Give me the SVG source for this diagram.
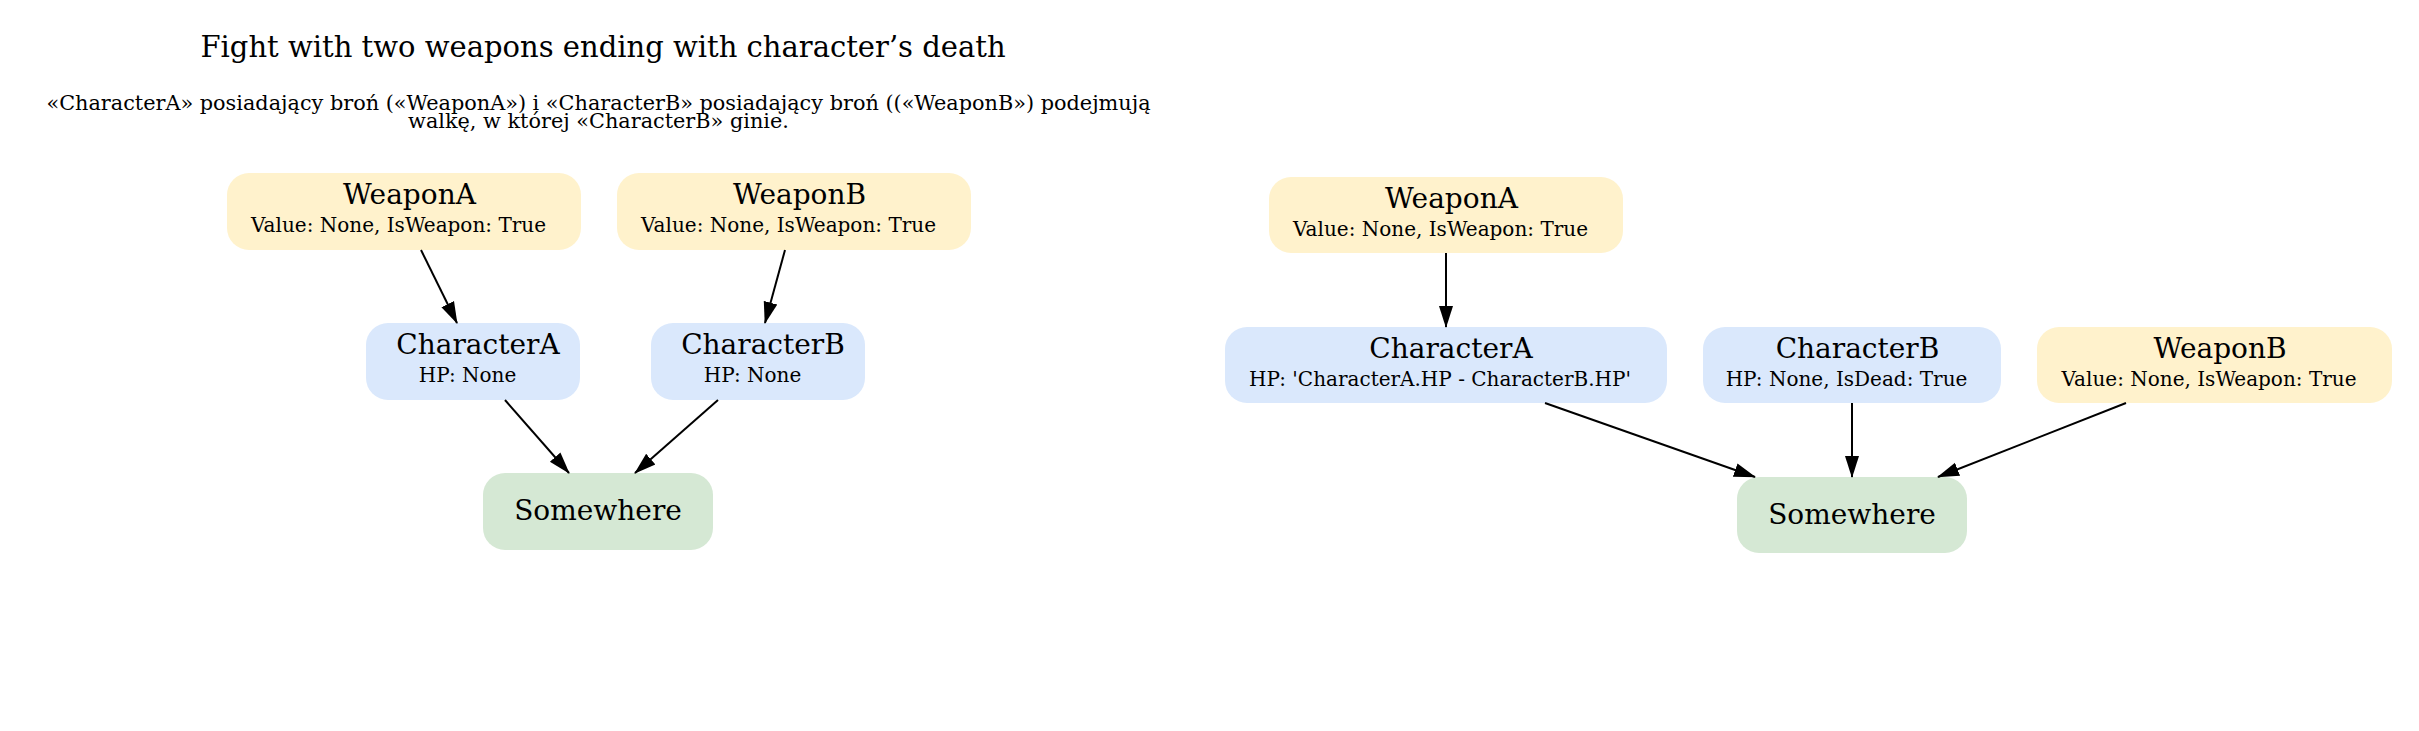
<svg xmlns="http://www.w3.org/2000/svg" width="2419" height="731" viewBox="0 0 2419 731">
<defs>
<style>
text{font-family:"DejaVu Serif","Liberation Serif",serif;fill:#000}
.t{font-size:29px;text-anchor:middle}
.s{font-size:20.8px;text-anchor:middle}
.n{font-size:28px;text-anchor:middle}
.a{font-size:20px;text-anchor:middle}
.w{fill:#fff2cc}
.c{fill:#dae8fc}
.p{fill:#d5e8d4}
.e{stroke:#000;stroke-width:2;fill:none;marker-end:url(#arr)}
</style>
<marker id="arr" viewBox="0 0 22 16" refX="21" refY="8" markerWidth="22" markerHeight="16" markerUnits="userSpaceOnUse" orient="auto">
<path d="M0,1 L22,8 L0,15 z" fill="#000"/>
</marker>
</defs>
<rect width="2419" height="731" fill="#fff"/>
<g id="title">
<text class="t" x="603" y="57">Fight with two weapons ending with character’s death</text>
<text class="s" x="598.5" y="110">«CharacterA» posiadający broń («WeaponA») i «CharacterB» posiadający broń ((«WeaponB») podejmują</text>
<text class="s" x="598.5" y="128">walkę, w której «CharacterB» ginie.</text>
</g>
<g id="left-WeaponA"><rect class="w" x="227" y="173" width="354" height="77" rx="22"/><text class="n" x="409.5" y="204">WeaponA</text><text class="a" x="398.5" y="232">Value: None, IsWeapon: True</text></g>
<g id="left-WeaponB"><rect class="w" x="617" y="173" width="354" height="77" rx="22"/><text class="n" x="799.5" y="204">WeaponB</text><text class="a" x="788.5" y="232">Value: None, IsWeapon: True</text></g>
<g id="left-CharacterA"><rect class="c" x="366" y="323" width="214" height="77" rx="22"/><text class="n" x="478" y="354">CharacterA</text><text class="a" x="467.5" y="382">HP: None</text></g>
<g id="left-CharacterB"><rect class="c" x="651" y="323" width="214" height="77" rx="22"/><text class="n" x="763" y="354">CharacterB</text><text class="a" x="752.5" y="382">HP: None</text></g>
<g id="left-Somewhere"><rect class="p" x="483" y="473" width="230" height="77" rx="22"/><text class="n" x="598" y="520">Somewhere</text></g>
<g id="right-WeaponA"><rect class="w" x="1269" y="177" width="354" height="76" rx="22"/><text class="n" x="1451.5" y="208">WeaponA</text><text class="a" x="1440.5" y="236">Value: None, IsWeapon: True</text></g>
<g id="right-CharacterA"><rect class="c" x="1225" y="327" width="442" height="76" rx="22"/><text class="n" x="1451" y="358">CharacterA</text><text class="a" x="1440" y="386">HP: 'CharacterA.HP - CharacterB.HP'</text></g>
<g id="right-CharacterB"><rect class="c" x="1703" y="327" width="298" height="76" rx="22"/><text class="n" x="1857.5" y="358">CharacterB</text><text class="a" x="1846.5" y="386">HP: None, IsDead: True</text></g>
<g id="right-WeaponB"><rect class="w" x="2037" y="327" width="355" height="76" rx="22"/><text class="n" x="2220" y="358">WeaponB</text><text class="a" x="2209" y="386">Value: None, IsWeapon: True</text></g>
<g id="right-Somewhere"><rect class="p" x="1737" y="477" width="230" height="76" rx="22"/><text class="n" x="1852" y="524">Somewhere</text></g>
<g id="connectors">
<path class="e" d="M421,250 L457,323"/>
<path class="e" d="M785,250 L765,323"/>
<path class="e" d="M505,400 L569,473"/>
<path class="e" d="M718,400 L635,473"/>
<path class="e" d="M1446,253 L1446,327"/>
<path class="e" d="M1545,403 L1755,477"/>
<path class="e" d="M1852,403 L1852,477"/>
<path class="e" d="M2126,403 L1938,477"/>
</g>
</svg>
